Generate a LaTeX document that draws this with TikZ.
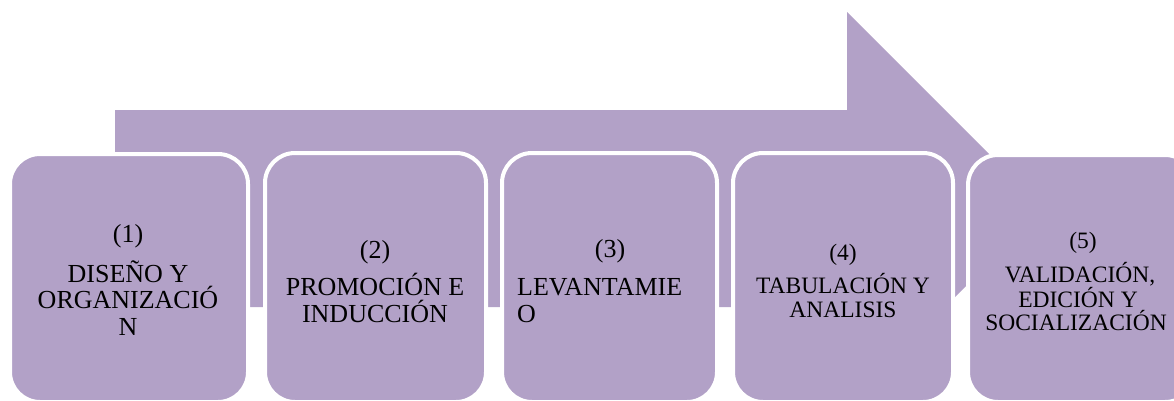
\documentclass[tikz,border=0pt]{standalone}
\usepackage{fontspec}
\setmainfont{Liberation Serif}
\definecolor{lav}{RGB}{178,161,199}
\begin{document}
\begin{tikzpicture}[x=1pt,y=-1pt,
  stepbox/.style={fill=lav,draw=white,line width=4pt,rounded corners=30pt},
  bigtxt/.style={inner sep=0pt,anchor=base,font=\fontsize{26}{27}\selectfont},
  smalltxt/.style={inner sep=0pt,anchor=base,font=\fontsize{23.5}{24}\selectfont}]
\useasboundingbox (0,0) rectangle (1174,400);
\clip (0,0) rectangle (1174,400);
% big arrow
\fill[lav] (115,110) -- (847,110) -- (847,12) -- (1043.5,208.5) -- (847,405) -- (847,307) -- (115,307) -- cycle;
% boxes
\draw[stepbox] (10,154) rectangle (248,402);
\draw[stepbox] (265,153) rectangle (486,402);
\draw[stepbox] (502,153) rectangle (717,402);
\draw[stepbox] (733,153) rectangle (953,402);
\draw[stepbox] (968,155) rectangle (1195,402);
% box 1
\node[bigtxt] (n1) at (128,242) {(1)};
\node[bigtxt] (t1a) at (128,282) {DISEÑO Y};
\node[bigtxt] (t1b) at (128,308) {ORGANIZACIÓ};
\node[bigtxt] (t1c) at (128,335) {N};
% box 2
\node[bigtxt] (n2) at (375,258) {(2)};
\node[bigtxt] (t2a) at (375,295) {PROMOCIÓN E};
\node[bigtxt] (t2b) at (375,322) {INDUCCIÓN};
% box 3
\node[bigtxt] (n3) at (610,257) {(3)};
\node[bigtxt,anchor=base west] (t3a) at (517,295) {LEVANTAMIE};
\node[bigtxt,anchor=base west] (t3b) at (517,322) {O};
% box 4
\node[smalltxt] (n4) at (843,260) {(4)};
\node[smalltxt] (t4a) at (843,293) {TABULACIÓN Y};
\node[smalltxt] (t4b) at (843,317) {ANALISIS};
% box 5
\node[smalltxt] (n5) at (1083,248) {(5)};
\node[smalltxt] (t5a) at (1080,282) {VALIDACIÓN,};
\node[smalltxt] (t5b) at (1078,307) {EDICIÓN Y};
\node[smalltxt] (t5c) at (1076,330) {SOCIALIZACIÓN};
\end{tikzpicture}
\end{document}
